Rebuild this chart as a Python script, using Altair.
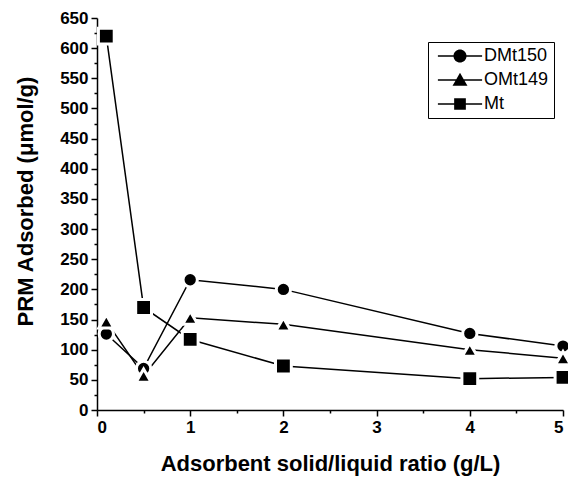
import altair as alt
import pandas as pd

x_vals = [0.1, 0.5, 1, 2, 4, 5]
series_names = ["DMt150", "OMt149", "Mt"]
dmt150 = [126, 69, 216, 200, 127, 106]
omt149 = [147, 57, 153, 142, 100, 86]
mt = [620, 170, 117, 73, 52, 54]

y_major = list(range(0, 651, 50))
y_minor = list(range(25, 651, 50))
x_major = [0, 1, 2, 3, 4, 5]
x_minor = [0.5, 1.5, 2.5, 3.5, 4.5]

marker_names = ["m_" + s for s in series_names]

rows = []
for name, mname, vals in zip(series_names, marker_names, [dmt150, omt149, mt]):
    for xv, yv in zip(x_vals, vals):
        rows.append({"ratio": xv, "adsorbed": yv, "series": name, "marker": mname})
df = pd.DataFrame(rows)

FONT = "Liberation Sans"
xscale = alt.Scale(domain=[0, 5], nice=False, zero=False)
yscale = alt.Scale(domain=[0, 650], nice=False)

# legend glyphs: line through marker, each as one closed outline (1 = half marker size)
legend_paths = [
    "M-3.4,-0.11H-0.994A1,1 0 0,1 0.994,-0.11H3.4V0.11H0.994"
    "A1,1 0 0,1 -0.994,0.11H-3.4Z",
    "M-3.4,-0.11H-0.569L0,-1.1L0.569,-0.11H3.4V0.11H0.696L1.15,0.9"
    "H-1.15L-0.696,0.11H-3.4Z",
    "M-3.4,-0.11H-0.9V-0.9H0.9V-0.11H3.4V0.11H0.9V0.9H-0.9V0.11H-3.4Z",
]

lines = alt.Chart(df).mark_line(strokeWidth=1.5, color="black").encode(
    x=alt.X(
        "ratio:Q",
        scale=xscale,
        axis=alt.Axis(
            title="Adsorbent solid/liquid ratio (g/L)",
            values=x_major,
            format="d",
            labelOverlap=False,
            tickSize=6,
            labelPadding=3,
            titlePadding=18,
            titleFontSize=22,
            grid=False,
        ),
    ),
    y=alt.Y(
        "adsorbed:Q",
        scale=yscale,
        axis=alt.Axis(
            title="PRM Adsorbed (μmol/g)",
            values=y_major,
            format="d",
            labelOverlap=False,
            tickSize=6,
            labelPadding=3,
            titlePadding=22,
            titleFontSize=22,
            titleY=183,
            grid=False,
        ),
    ),
    detail="series:N",
)

minor_ticks = alt.Chart(df).mark_point(opacity=0).encode(
    x=alt.X(
        "ratio:Q",
        scale=xscale,
        axis=alt.Axis(
            values=x_minor, labels=False, domain=False, title=None,
            tickSize=3, orient="bottom", grid=False,
        ),
    ),
    y=alt.Y(
        "adsorbed:Q",
        scale=yscale,
        axis=alt.Axis(
            values=y_minor, labels=False, domain=False, title=None,
            tickSize=3, orient="left", grid=False,
        ),
    ),
)

points = alt.Chart(df).mark_point(
    filled=True, fill="black", stroke="white", strokeWidth=3, opacity=1
).encode(
    x=alt.X("ratio:Q", scale=xscale, axis=None),
    y=alt.Y("adsorbed:Q", scale=yscale, axis=None),
    shape=alt.Shape(
        "marker:N",
        scale=alt.Scale(domain=marker_names, range=["circle", "triangle-up", "square"]),
        legend=None,
    ),
    size=alt.Size(
        "marker:N",
        scale=alt.Scale(domain=marker_names, range=[205, 250, 215]),
        legend=None,
    ),
)

legend_layer = alt.Chart(df).mark_point(
    filled=True, color="black", opacity=0, size=169
).encode(
    x=alt.X("ratio:Q", scale=xscale, axis=None),
    y=alt.Y("adsorbed:Q", scale=yscale, axis=None),
    shape=alt.Shape(
        "series:N",
        scale=alt.Scale(domain=series_names, range=legend_paths),
        legend=alt.Legend(
            title=None,
            orient="none",
            legendX=331,
            legendY=24,
            padding=5,
            strokeColor="black",
            fillColor="white",
            symbolSize=169,
            symbolFillColor="black",
            symbolStrokeColor="black",
            symbolStrokeWidth=0,
            symbolOpacity=1,
            symbolOffset=18,
            labelOffset=15,
            labelFont=FONT,
            labelFontSize=18,
            labelColor="black",
            rowPadding=6,
        ),
    ),
)

chart = (
    alt.layer(lines, minor_ticks, points, legend_layer)
    .properties(
        width=466,
        height=392,
        autosize=alt.AutoSizeParams(type="none"),
        padding={"left": 97, "top": 18, "right": 5, "bottom": 71},
        background="white",
        resolve=alt.Resolve(
            scale=alt.ScaleResolveMap(shape="independent", size="independent"),
            axis=alt.AxisResolveMap(x="independent", y="independent"),
        ),
    )
    .configure_view(stroke=None)
    .configure_axis(
        labelFont=FONT,
        labelFontWeight="bold",
        labelFontSize=17,
        labelColor="black",
        titleFont=FONT,
        titleFontWeight="bold",
        titleColor="black",
        domainColor="black",
        domainWidth=1.5,
        tickColor="black",
        tickWidth=1.5,
    )
)

chart.save("out.html", embed_options={"renderer": "svg", "actions": False})
